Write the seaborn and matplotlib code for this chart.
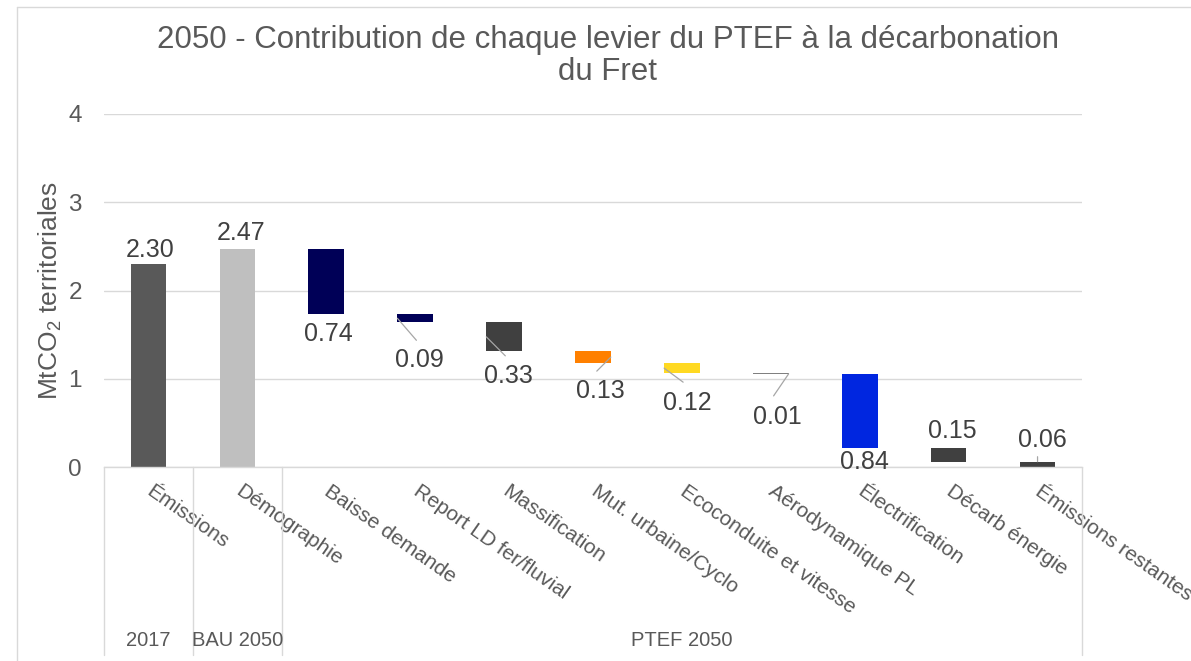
import numpy as np
import pandas as pd
import seaborn as sns
import matplotlib.pyplot as plt
from matplotlib.lines import Line2D

# ---------------- data ----------------
categories = ["Émissions", "Démographie", "Baisse demande", "Report LD fer/fluvial",
              "Massification", "Mut. urbaine/Cyclo", "Ecoconduite et vitesse",
              "Aérodynamique PL", "Électrification", "Décarb énergie", "Émissions restantes"]
values = [2.30, 2.47, 0.74, 0.09, 0.33, 0.13, 0.12, 0.01, 0.84, 0.15, 0.06]
kinds = ["total", "total", "delta", "delta", "delta", "delta", "delta",
         "delta", "delta", "delta", "total"]
group_labels = ["2017", "BAU 2050", "PTEF 2050"]
title = "2050 - Contribution de chaque levier du PTEF à la décarbonation\ndu Fret"
ylabel = r"MtCO$_\mathregular{2}$ territoriales"
yticks = [0, 1, 2, 3, 4]

# ---------------- style ----------------
colors = ["#595959", "#BFBFBF", "#000057", "#000057", "#404040", "#FF8000",
          "#FFD922", "#808080", "#0026E0", "#404040", "#404040"]
GRID = "#D9D9D9"
TXT = "#595959"
LBL = "#404040"

sns.set_style("white")
plt.rcParams['font.family'] = ['Liberation Sans', 'DejaVu Sans']
plt.rcParams['mathtext.fontset'] = 'custom'
plt.rcParams['mathtext.rm'] = 'Liberation Sans'
plt.rcParams['mathtext.it'] = 'Liberation Sans:italic'
plt.rcParams['mathtext.bf'] = 'Liberation Sans:bold'

# waterfall geometry
bottoms, tops = [], []
running = 0.0
for v, k in zip(values, kinds):
    if k == "total":
        bottoms.append(0.0)
        tops.append(v)
        running = v
    else:
        tops.append(running)
        running = running - v
        bottoms.append(running)

W, H = 1191, 661
fig = plt.figure(figsize=(W / 100, H / 100), dpi=100)
ax = fig.add_axes([104 / W, 1 - 467 / H, 978 / W, 353 / H])

df = pd.DataFrame({"cat": categories, "top": tops})
sns.barplot(data=df, x="cat", y="top", hue="cat",
            palette=dict(zip(categories, colors)), legend=False,
            width=0.4, saturation=1, linewidth=0, ax=ax)

for p in ax.patches:
    idx = int(round(p.get_x() + p.get_width() / 2))
    p.set_y(bottoms[idx])
    p.set_height(values[idx])

ax.set_xlim(-0.5, len(categories) - 0.5)
ax.set_ylim(0, 4)
ax.set_yticks(yticks)
ax.set_yticklabels([str(t) for t in yticks], fontsize=17.5, color=TXT)
ax.yaxis.grid(True, color=GRID, lw=1)
ax.xaxis.grid(False)
ax.set_axisbelow(True)
for s in ["left", "right", "top"]:
    ax.spines[s].set_visible(False)
ax.spines["bottom"].set_color(GRID)
ax.spines["bottom"].set_linewidth(1)
ax.set_xlabel("")
ax.set_ylabel("")
ax.tick_params(axis="y", length=0, pad=16)
ax.tick_params(axis="x", length=0, pad=16)
ax.set_xticks(range(len(categories)))
ax.set_xticklabels(categories, rotation=-35, ha="left", va="center",
                   rotation_mode="anchor", fontsize=15, color=TXT)

# data labels: (anchor, dx px, dy px down)
label_pos = [("top", 2, -17), ("top", 4, -19), ("bottom", 2, 17), ("bottom", 4.5, 35),
             ("bottom", 4.5, 22), ("bottom", 7.5, 25.5), ("bottom", 5, 27.5),
             ("bottom", 6.5, 40), ("bottom", 5, 11.5), ("top", 4, -20), ("top", 4.5, -24)]
for i, (v, (anc, dx, dy)) in enumerate(zip(values, label_pos)):
    y0 = tops[i] if anc == "top" else bottoms[i]
    ax.annotate(f"{v:.2f}", xy=(i, y0), xytext=(dx, -(dy + 2.5)),
                textcoords="offset pixels", ha="center", va="center",
                fontsize=18, color=LBL, annotation_clip=False)

# leader lines: (index, side, mode, dx, dy)
leaders = [(3, -1, "mid", 19, 22), (4, -1, "mid", 19, 19), (5, 1, "mid", -14, 14),
           (6, -1, "mid", 19, 14), (7, 1, "mid", -15, 22), (10, 0, "top", 0, -5)]
for i, side, mode, dx, dy in leaders:
    yv = (tops[i] + bottoms[i]) / 2 if mode == "mid" else tops[i]
    ax.annotate("", xy=(i + side * 0.2, yv), xytext=(dx, -dy),
                textcoords="offset pixels",
                arrowprops=dict(arrowstyle="-", color="#A6A6A6", lw=0.9,
                                shrinkA=0, shrinkB=0))

# multi-level category axis
xt = ax.get_xaxis_transform()
for xs in [-0.5, 0.5, 1.5, len(categories) - 0.5]:
    ax.plot([xs, xs], [0, -(655 - 467) / 353], transform=xt, color=GRID, lw=1,
            clip_on=False)
for gx, gl in zip([0, 1, 6], group_labels):
    ax.text(gx, -(640 - 467) / 353, gl, transform=xt, ha="center", va="center",
            fontsize=14.5, color=TXT)

fig.text(50 / W, 1 - 291 / H, ylabel, rotation=90, ha="center", va="center",
         fontsize=19, color=TXT)
fig.text(608 / W, 1 - 56 / H, title, ha="center", va="center", fontsize=22.5,
         color=TXT, linespacing=1.08)

# chart frame
fig.add_artist(Line2D([17 / W, 17 / W], [0, 1 - 7 / H], color=GRID, lw=1))
fig.add_artist(Line2D([17 / W, 1], [1 - 7 / H, 1 - 7 / H], color=GRID, lw=1))

fig.savefig("out.png", dpi=100)
